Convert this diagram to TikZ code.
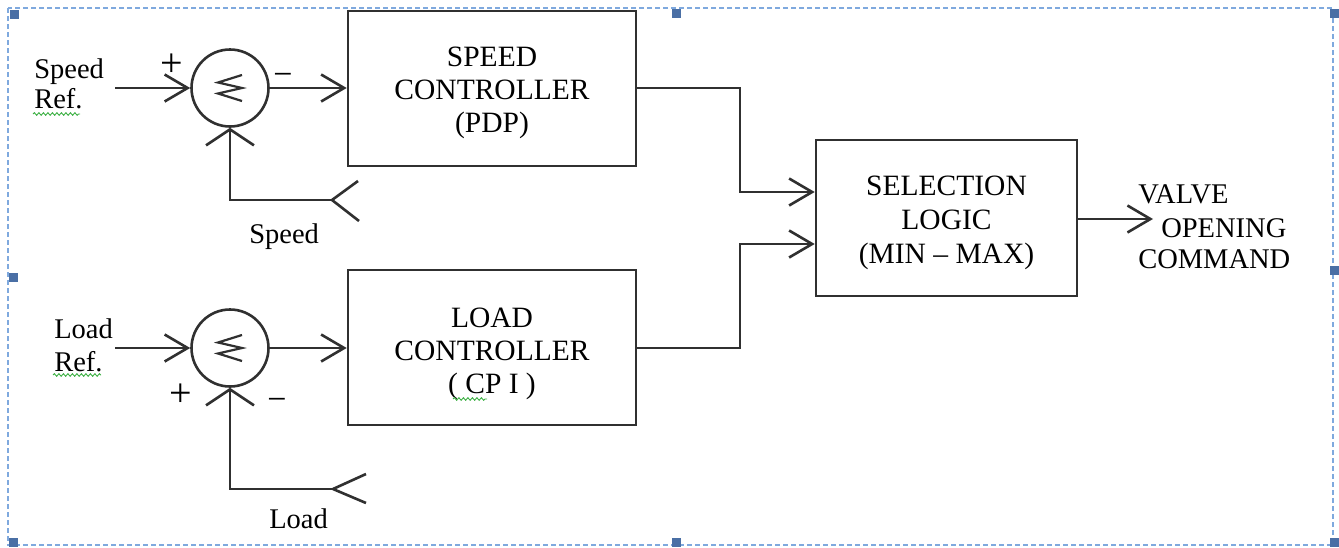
\documentclass[tikz,border=0pt]{standalone}
\usepackage{fontspec}
\setmainfont{Liberation Serif}
\usetikzlibrary{arrows.meta,decorations.pathmorphing}
\definecolor{ln}{HTML}{303030}
\definecolor{frm}{HTML}{7FA9DE}
\definecolor{hdl}{HTML}{4A6FA5}
\definecolor{spell}{HTML}{3CB043}
\begin{document}
\begin{tikzpicture}[x=1pt,y=-1pt,
  line width=2.6pt, draw=ln,
  arr/.style={draw=ln,-{Straight Barb[length=23pt,width=27pt]}},
  uparr/.style={draw=ln,-{Straight Barb[length=16pt,width=48pt]}},
  box/.style={draw=ln, rectangle, line width=2.6pt, inner sep=0pt},
  boxtext/.style={text=black, font=\fontsize{29.5}{33}\selectfont, align=center, inner sep=0pt},
  sumj/.style={draw=ln, circle, minimum size=77pt, inner sep=0pt},
  lbl/.style={text=black, font=\fontsize{28.5}{33}\selectfont, anchor=base west, inner sep=0pt},
  plussign/.style={text=black, inner sep=0pt, font=\fontsize{40}{40}\selectfont},
  minussign/.style={text=black, inner sep=0pt, font=\fontsize{34}{34}\selectfont},
  handle/.style={fill=hdl, draw=none},
  spellc/.style={draw=spell, line width=0.9pt, decorate,
    decoration={snake, amplitude=1.3pt, segment length=4.5pt}}
]
\useasboundingbox (0,0) rectangle (1339,547);
% frame
\draw[frm, line width=1.4pt, dash pattern=on 5pt off 3pt] (8,8) rectangle (1333,545);
\foreach \hx/\hy in {10/10, 672/9, 1330/9, 9/273, 1330/266, 9/538, 672/538, 1330/538}
  \fill[handle] (\hx,\hy) rectangle ++(9,9);

% blocks
\node[box, minimum width=288pt, minimum height=155pt] (sc) at (492,88.5) {};
\node[box, minimum width=288pt, minimum height=155pt] (lc) at (492,347.5) {};
\node[box, minimum width=261pt, minimum height=156pt] (sel) at (946.5,218) {};
\node[boxtext] (sct) at (492,92.5) {SPEED\\CONTROLLER\\(PDP)};
\node[boxtext] (lct) at (492,353.5) {LOAD\\CONTROLLER\\( CP I )};
\node[boxtext, font=\fontsize{29.5}{34}\selectfont] (selt) at (946.5,223) {SELECTION\\LOGIC\\(MIN -- MAX)};

% summing junctions
\node[sumj] (s1) at (230,88) {};
\node[sumj] (s2) at (230,348) {};
\foreach \s in {s1,s2}
  \draw[ln, line width=2.2pt] ([shift={(12,-13)}]\s.center) -- ++(-24,7.5) -- ++(24,5.5) -- ++(-24,5.5) -- ++(24,7.5);

% labels
\node[lbl] (t1) at (33,78) {Speed};
\node[lbl] (t2) at (33,108) {Ref.};
\node[lbl] (t3) at (53,338) {Load};
\node[lbl] (t4) at (53,371) {Ref.};
\node[lbl] (t5) at (248,243) {Speed};
\node[lbl] (t6) at (268,528) {Load};
\node[lbl] (v1) at (1137,203) {VALVE};
\node[lbl] (v2) at (1160,237) {OPENING};
\node[lbl] (v3) at (1137,268) {COMMAND};

\node[plussign] (p1) at (172,65) {+};
\node[minussign] (m1) at (283,79) {−};
\node[plussign] (p2) at (181,395) {+};
\node[minussign] (m2) at (277,404) {−};

% spell-check underlines
\draw[spellc] (33,114) -- (80,114);
\draw[spellc] (53,375) -- (101,375);
\draw[spellc] (453,399) -- (487,399);

% connectors
\coordinate (sr) at (115,88);
\coordinate (lr) at (115,348);
\draw[arr] (sr) -- (s1.west);
\draw[arr] (lr) -- (s2.west);
\draw[arr] (s1.east) -- (s1.east -| sc.west);
\draw[arr] (s2.east) -- (s2.east -| lc.west);

\coordinate (j1) at (740,192);
\coordinate (j2) at (740,244);
\draw[arr] (sc.east |- s1) -| (j1) -- (j1 -| sel.west);
\draw[arr] (lc.east |- s2) -| (j2) -- (j2 -| sel.west);

\coordinate (vo) at (1153,219);
\draw[arr] (sel.east |- vo) -- (vo);

% feedback
\coordinate (fb1) at (332,200);
\coordinate (fb2) at (333,489);
\draw[uparr] (fb1) -| (s1.south);
\draw[uparr] (fb2) -| (s2.south);
\draw[ln] (fb1) -- ++(26,-19) (fb1) -- ++(27,21);
\draw[ln] (fb2) -- ++(33,-15) (fb2) -- ++(33,14);
\end{tikzpicture}
\end{document}
